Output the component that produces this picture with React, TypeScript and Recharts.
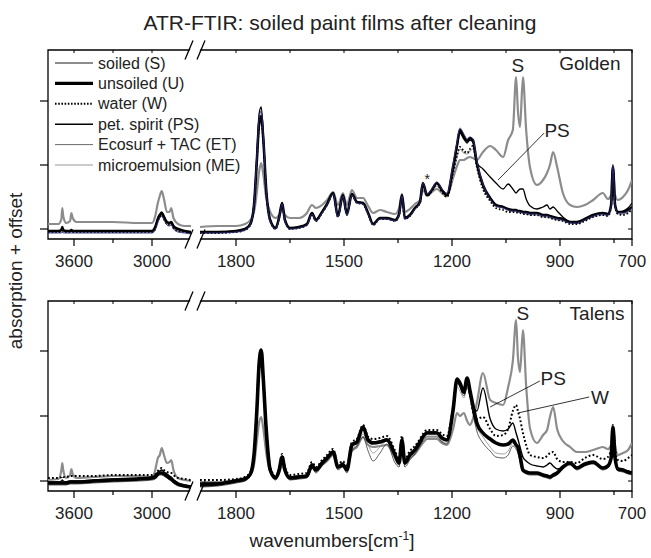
import React from 'react';
import { LineChart, Line, XAxis, YAxis, ReferenceArea, ReferenceLine, ReferenceDot } from 'recharts';

const FONT = '"Liberation Sans", Arial, Helvetica, sans-serif';

// wavenumber grid (cm-1): high-wavenumber segment, then fingerprint segment
const LEFT_WN = [3800, 3720, 3697, 3690, 3683, 3660, 3630, 3620, 3610, 3580, 3450, 3300, 3100, 3000, 2975, 2955, 2940, 2925, 2908, 2885, 2865, 2852, 2835, 2800, 2750, 2700];
const RIGHT_WN = [
  1900, 1850, 1800, 1775, 1760, 1750, 1742, 1736, 1730, 1724, 1716, 1705, 1690, 1680, 1672,
  1664, 1650, 1625, 1603, 1589, 1578, 1561, 1547, 1530, 1517, 1503, 1492, 1478, 1464, 1447,
  1433, 1419, 1400, 1381, 1358, 1347, 1339, 1331, 1317, 1303, 1289, 1281, 1269, 1256, 1242,
  1228, 1214, 1197, 1186, 1178, 1167, 1158, 1150, 1142, 1131, 1114, 1094, 1078, 1058, 1044,
  1031, 1022, 1017, 1011, 1003, 994, 983, 964, 947, 936, 928, 919, 908, 892, 872,
  853, 831, 808, 781, 767, 758, 753, 747, 739, 725, 711, 700,
];
const WN = [...LEFT_WN, ...RIGHT_WN];

// ---------- Golden (top panel), absorption + offset ----------
const TOP_S = [
  0.15, 0.15, 0.20, 0.31, 0.23, 0.16, 0.18, 0.26, 0.21, 0.17, 0.17, 0.17, 0.16, 0.16, 0.23, 0.36, 0.43, 0.48, 0.40, 0.27, 0.27, 0.31, 0.21, 0.15, 0.13, 0.13,
  0.12, 0.13, 0.13, 0.15, 0.19, 0.27, 0.47, 0.67, 0.76, 0.64, 0.41, 0.27, 0.21, 0.24, 0.29,
  0.24, 0.21, 0.21, 0.26, 0.34, 0.31, 0.34, 0.39, 0.47, 0.34, 0.46, 0.34, 0.49, 0.41, 0.41,
  0.33, 0.26, 0.29, 0.27, 0.25, 0.31, 0.45, 0.27, 0.30, 0.35, 0.39, 0.49, 0.43, 0.47, 0.50,
  0.46, 0.43, 0.61, 0.73, 0.79, 0.79, 0.81, 0.82, 0.81, 0.79, 0.87, 0.93, 0.89, 0.82, 0.99,
  1.09, 1.62, 1.29, 1.12, 1.62, 1.09, 0.71, 0.54, 0.59, 0.66, 0.74, 0.87, 0.72, 0.46, 0.34,
  0.32, 0.34, 0.39, 0.46, 0.40, 0.44, 0.74, 0.44, 0.39, 0.42, 0.49, 0.59,
];
const TOP_U = [
  0.08, 0.08, 0.09, 0.12, 0.09, 0.08, 0.08, 0.09, 0.08, 0.08, 0.08, 0.08, 0.08, 0.08, 0.12, 0.20, 0.24, 0.26, 0.22, 0.17, 0.16, 0.17, 0.13, 0.10, 0.08, 0.07,
  0.07, 0.07, 0.08, 0.10, 0.15, 0.34, 0.79, 1.15, 1.23, 0.99, 0.49, 0.19, 0.11, 0.22, 0.36,
  0.19, 0.11, 0.12, 0.15, 0.26, 0.19, 0.27, 0.35, 0.46, 0.23, 0.44, 0.25, 0.45, 0.37, 0.36,
  0.26, 0.15, 0.21, 0.21, 0.19, 0.25, 0.44, 0.21, 0.24, 0.31, 0.37, 0.56, 0.44, 0.49, 0.56,
  0.49, 0.44, 0.72, 0.94, 1.09, 1.02, 0.98, 1.01, 0.99, 0.76, 0.54, 0.41, 0.34, 0.32, 0.30,
  0.29, 0.29, 0.28, 0.28, 0.27, 0.27, 0.26, 0.26, 0.24, 0.24, 0.23, 0.22, 0.21, 0.20, 0.17,
  0.17, 0.20, 0.24, 0.26, 0.25, 0.34, 0.72, 0.34, 0.27, 0.27, 0.29, 0.32,
];
const TOP_W = [
  0.07, 0.07, 0.07, 0.08, 0.07, 0.07, 0.07, 0.07, 0.07, 0.07, 0.07, 0.07, 0.07, 0.07, 0.10, 0.18, 0.22, 0.24, 0.20, 0.15, 0.14, 0.15, 0.11, 0.08, 0.07, 0.06,
  0.06, 0.06, 0.07, 0.09, 0.14, 0.33, 0.78, 1.13, 1.20, 0.97, 0.47, 0.18, 0.10, 0.21, 0.35,
  0.18, 0.10, 0.11, 0.14, 0.25, 0.18, 0.26, 0.34, 0.45, 0.22, 0.43, 0.24, 0.44, 0.36, 0.35,
  0.25, 0.14, 0.20, 0.20, 0.18, 0.24, 0.43, 0.20, 0.23, 0.30, 0.36, 0.55, 0.43, 0.48, 0.55,
  0.47, 0.42, 0.66, 0.84, 0.92, 0.88, 0.86, 0.90, 0.93, 0.72, 0.50, 0.38, 0.31, 0.29, 0.27,
  0.27, 0.27, 0.26, 0.26, 0.25, 0.25, 0.24, 0.24, 0.22, 0.22, 0.21, 0.20, 0.19, 0.18, 0.15,
  0.15, 0.18, 0.22, 0.24, 0.23, 0.32, 0.70, 0.32, 0.25, 0.24, 0.26, 0.30,
];
const TOP_PS = [
  0.08, 0.08, 0.09, 0.10, 0.09, 0.08, 0.08, 0.09, 0.08, 0.08, 0.08, 0.08, 0.08, 0.08, 0.12, 0.21, 0.25, 0.27, 0.23, 0.17, 0.16, 0.17, 0.13, 0.10, 0.08, 0.07,
  0.07, 0.07, 0.08, 0.10, 0.16, 0.36, 0.85, 1.25, 1.32, 1.05, 0.50, 0.19, 0.11, 0.22, 0.36,
  0.19, 0.11, 0.12, 0.15, 0.26, 0.19, 0.27, 0.35, 0.46, 0.23, 0.44, 0.25, 0.45, 0.37, 0.36,
  0.26, 0.15, 0.21, 0.21, 0.19, 0.25, 0.44, 0.21, 0.24, 0.31, 0.37, 0.55, 0.44, 0.49, 0.56,
  0.49, 0.44, 0.70, 0.92, 1.06, 1.00, 0.96, 0.99, 0.97, 0.76, 0.70, 0.62, 0.56, 0.50, 0.55,
  0.50, 0.46, 0.48, 0.50, 0.50, 0.40, 0.33, 0.30, 0.32, 0.34, 0.30, 0.32, 0.28, 0.22, 0.17,
  0.16, 0.19, 0.23, 0.26, 0.25, 0.33, 0.74, 0.33, 0.27, 0.28, 0.31, 0.36,
];
const TOP_ET = [
  0.06, 0.06, 0.06, 0.07, 0.06, 0.06, 0.06, 0.06, 0.06, 0.06, 0.06, 0.06, 0.06, 0.06, 0.09, 0.17, 0.21, 0.23, 0.19, 0.14, 0.13, 0.14, 0.10, 0.07, 0.06, 0.05,
  0.06, 0.06, 0.07, 0.09, 0.15, 0.35, 0.82, 1.20, 1.28, 1.02, 0.49, 0.18, 0.10, 0.21, 0.35,
  0.18, 0.10, 0.11, 0.14, 0.25, 0.18, 0.26, 0.34, 0.45, 0.22, 0.43, 0.24, 0.44, 0.36, 0.35,
  0.25, 0.14, 0.20, 0.20, 0.18, 0.24, 0.43, 0.20, 0.23, 0.30, 0.37, 0.56, 0.45, 0.50, 0.57,
  0.50, 0.46, 0.75, 0.97, 1.11, 1.05, 1.00, 1.02, 1.00, 0.78, 0.55, 0.40, 0.33, 0.31, 0.29,
  0.28, 0.28, 0.27, 0.27, 0.26, 0.26, 0.25, 0.25, 0.23, 0.23, 0.22, 0.21, 0.20, 0.19, 0.16,
  0.16, 0.19, 0.23, 0.25, 0.24, 0.33, 0.73, 0.33, 0.26, 0.26, 0.28, 0.31,
];
const TOP_ME = [
  0.07, 0.07, 0.07, 0.08, 0.07, 0.07, 0.07, 0.07, 0.07, 0.07, 0.07, 0.07, 0.07, 0.07, 0.10, 0.18, 0.22, 0.24, 0.20, 0.15, 0.14, 0.15, 0.11, 0.08, 0.07, 0.06,
  0.07, 0.07, 0.07, 0.09, 0.14, 0.32, 0.76, 1.10, 1.18, 0.95, 0.46, 0.18, 0.10, 0.21, 0.35,
  0.18, 0.10, 0.11, 0.14, 0.25, 0.18, 0.26, 0.34, 0.45, 0.22, 0.43, 0.24, 0.44, 0.36, 0.35,
  0.25, 0.14, 0.20, 0.20, 0.18, 0.24, 0.43, 0.20, 0.23, 0.30, 0.36, 0.54, 0.43, 0.47, 0.53,
  0.46, 0.42, 0.64, 0.82, 0.90, 0.86, 0.85, 0.88, 0.90, 0.72, 0.52, 0.40, 0.33, 0.31, 0.29,
  0.28, 0.28, 0.27, 0.27, 0.26, 0.25, 0.24, 0.24, 0.22, 0.22, 0.21, 0.20, 0.19, 0.18, 0.16,
  0.16, 0.19, 0.22, 0.24, 0.23, 0.31, 0.66, 0.31, 0.25, 0.25, 0.27, 0.30,
];

// ---------- Talens (bottom panel) ----------
const BOT_S = [
  0.11, 0.12, 0.21, 0.28, 0.21, 0.13, 0.16, 0.22, 0.17, 0.13, 0.14, 0.15, 0.15, 0.14, 0.21, 0.33, 0.36, 0.43, 0.36, 0.28, 0.29, 0.31, 0.21, 0.13, 0.11, 0.10,
  0.09, 0.09, 0.11, 0.12, 0.16, 0.26, 0.50, 0.68, 0.74, 0.62, 0.38, 0.20, 0.14, 0.18, 0.26,
  0.19, 0.14, 0.15, 0.15, 0.23, 0.20, 0.26, 0.30, 0.36, 0.24, 0.27, 0.21, 0.40, 0.44, 0.54,
  0.46, 0.44, 0.45, 0.46, 0.33, 0.27, 0.46, 0.27, 0.33, 0.37, 0.44, 0.48, 0.52, 0.52, 0.52,
  0.48, 0.46, 0.62, 0.78, 0.75, 0.78, 0.70, 0.66, 0.72, 0.88, 1.18, 0.91, 0.88, 0.86, 1.04,
  1.30, 1.71, 1.35, 1.19, 1.61, 1.05, 0.62, 0.48, 0.56, 0.61, 0.74, 0.84, 0.62, 0.50, 0.44,
  0.39, 0.39, 0.41, 0.44, 0.42, 0.46, 0.64, 0.46, 0.36, 0.38, 0.41, 0.48,
];
const BOT_U = [
  0.08, 0.08, 0.08, 0.08, 0.08, 0.08, 0.09, 0.09, 0.09, 0.09, 0.10, 0.11, 0.12, 0.13, 0.14, 0.17, 0.18, 0.18, 0.17, 0.15, 0.13, 0.12, 0.10, 0.07, 0.05, 0.04,
  0.06, 0.07, 0.10, 0.12, 0.17, 0.36, 0.81, 1.26, 1.41, 1.11, 0.61, 0.21, 0.13, 0.21, 0.34,
  0.21, 0.13, 0.14, 0.15, 0.26, 0.21, 0.28, 0.33, 0.39, 0.24, 0.26, 0.21, 0.46, 0.49, 0.64,
  0.51, 0.48, 0.49, 0.51, 0.36, 0.28, 0.51, 0.28, 0.36, 0.41, 0.49, 0.54, 0.58, 0.58, 0.58,
  0.53, 0.51, 0.81, 1.12, 1.08, 0.99, 1.13, 1.00, 0.86, 0.68, 0.58, 0.52, 0.48, 0.46, 0.47,
  0.51, 0.46, 0.44, 0.35, 0.21, 0.19, 0.18, 0.18, 0.16, 0.15, 0.14, 0.16, 0.18, 0.24, 0.28,
  0.23, 0.27, 0.29, 0.23, 0.25, 0.33, 0.64, 0.33, 0.22, 0.21, 0.19, 0.18,
];
const BOT_W = [
  0.13, 0.13, 0.14, 0.15, 0.14, 0.14, 0.15, 0.15, 0.15, 0.15, 0.15, 0.16, 0.16, 0.16, 0.17, 0.20, 0.22, 0.23, 0.21, 0.19, 0.18, 0.18, 0.16, 0.13, 0.12, 0.11,
  0.11, 0.11, 0.12, 0.14, 0.19, 0.38, 0.85, 1.28, 1.40, 1.12, 0.63, 0.24, 0.15, 0.23, 0.37,
  0.24, 0.16, 0.17, 0.18, 0.29, 0.24, 0.31, 0.36, 0.42, 0.27, 0.30, 0.25, 0.49, 0.52, 0.66,
  0.54, 0.52, 0.53, 0.55, 0.40, 0.32, 0.55, 0.32, 0.40, 0.45, 0.52, 0.57, 0.61, 0.61, 0.61,
  0.57, 0.55, 0.84, 1.10, 1.06, 0.97, 1.08, 0.96, 0.80, 0.72, 0.74, 0.62, 0.55, 0.56, 0.62,
  0.80, 0.86, 0.80, 0.72, 0.58, 0.46, 0.36, 0.34, 0.33, 0.35, 0.38, 0.39, 0.32, 0.29, 0.29,
  0.28, 0.33, 0.36, 0.32, 0.34, 0.42, 0.66, 0.42, 0.31, 0.30, 0.33, 0.36,
];
const BOT_PS = [
  0.09, 0.09, 0.10, 0.11, 0.10, 0.09, 0.10, 0.10, 0.10, 0.10, 0.11, 0.12, 0.13, 0.14, 0.16, 0.19, 0.20, 0.21, 0.19, 0.17, 0.15, 0.14, 0.11, 0.08, 0.06, 0.05,
  0.08, 0.08, 0.11, 0.13, 0.18, 0.37, 0.80, 1.22, 1.33, 1.05, 0.58, 0.22, 0.14, 0.22, 0.35,
  0.22, 0.14, 0.15, 0.16, 0.27, 0.22, 0.29, 0.34, 0.40, 0.25, 0.28, 0.22, 0.47, 0.50, 0.63,
  0.52, 0.49, 0.50, 0.52, 0.37, 0.29, 0.52, 0.29, 0.37, 0.42, 0.50, 0.55, 0.59, 0.59, 0.59,
  0.54, 0.52, 0.80, 1.10, 1.06, 0.98, 1.10, 0.98, 0.85, 0.80, 1.03, 0.72, 0.62, 0.60, 0.62,
  0.68, 0.58, 0.52, 0.44, 0.34, 0.30, 0.27, 0.25, 0.24, 0.26, 0.28, 0.25, 0.22, 0.24, 0.28,
  0.23, 0.26, 0.28, 0.23, 0.25, 0.34, 0.62, 0.34, 0.22, 0.21, 0.20, 0.19,
];
const BOT_ET = [
  0.06, 0.06, 0.06, 0.06, 0.06, 0.06, 0.07, 0.07, 0.07, 0.07, 0.08, 0.09, 0.10, 0.11, 0.12, 0.15, 0.16, 0.16, 0.15, 0.13, 0.11, 0.10, 0.08, 0.05, 0.04, 0.03,
  0.04, 0.05, 0.08, 0.10, 0.15, 0.34, 0.78, 1.22, 1.36, 1.06, 0.58, 0.19, 0.11, 0.19, 0.32,
  0.19, 0.11, 0.12, 0.13, 0.23, 0.18, 0.25, 0.30, 0.36, 0.21, 0.24, 0.18, 0.40, 0.45, 0.54,
  0.40, 0.30, 0.38, 0.47, 0.28, 0.24, 0.46, 0.24, 0.31, 0.37, 0.45, 0.50, 0.54, 0.54, 0.54,
  0.49, 0.47, 0.77, 1.08, 1.04, 0.95, 1.08, 0.95, 0.78, 0.60, 0.48, 0.40, 0.34, 0.33, 0.36,
  0.45, 0.42, 0.38, 0.30, 0.20, 0.17, 0.16, 0.16, 0.14, 0.13, 0.12, 0.14, 0.16, 0.22, 0.26,
  0.21, 0.25, 0.27, 0.21, 0.23, 0.31, 0.62, 0.31, 0.20, 0.19, 0.17, 0.16,
];
const BOT_ME = [
  0.07, 0.07, 0.07, 0.07, 0.07, 0.07, 0.08, 0.08, 0.08, 0.08, 0.09, 0.10, 0.11, 0.12, 0.13, 0.16, 0.17, 0.17, 0.16, 0.14, 0.12, 0.11, 0.09, 0.06, 0.05, 0.04,
  0.05, 0.06, 0.09, 0.11, 0.16, 0.33, 0.75, 1.16, 1.30, 1.02, 0.56, 0.20, 0.12, 0.20, 0.33,
  0.20, 0.12, 0.13, 0.14, 0.24, 0.19, 0.26, 0.31, 0.37, 0.22, 0.26, 0.20, 0.42, 0.46, 0.57,
  0.46, 0.38, 0.44, 0.50, 0.32, 0.26, 0.48, 0.26, 0.33, 0.38, 0.46, 0.51, 0.55, 0.55, 0.55,
  0.50, 0.48, 0.76, 1.04, 1.00, 0.93, 1.04, 0.93, 0.78, 0.64, 0.54, 0.44, 0.38, 0.37, 0.40,
  0.48, 0.44, 0.40, 0.32, 0.22, 0.18, 0.17, 0.17, 0.15, 0.14, 0.13, 0.15, 0.17, 0.23, 0.27,
  0.22, 0.26, 0.28, 0.22, 0.24, 0.32, 0.60, 0.32, 0.21, 0.20, 0.18, 0.17,
];

const MAJOR_TICKS = [3600, 3000, 1800, 1500, 1200, 900, 700];
const MINOR_TICKS = [3300, 1650, 1350, 1050, 750];
const TOP_Y_TICKS = [0.10, 0.74, 1.38];
const BOT_Y_TICKS = [0.10, 0.75, 1.40];

const LEGEND_ITEMS = [
  { label: 'soiled (S)', color: '#8c8c8c', width: 2.2 },
  { label: 'unsoiled (U)', color: '#000', width: 3.2 },
  { label: 'water (W)', color: '#000', width: 2, dash: '1.6 1.6' },
  { label: 'pet. spirit (PS)', color: '#000', width: 1.5 },
  { label: 'Ecosurf + TAC (ET)', color: '#444', width: 0.8 },
  { label: 'microemulsion (ME)', color: '#9a9a9a', width: 1.2 },
];

// ---------- broken axis mapping ----------
const PLOT_W = 584;
const toU = (wn: number) => (wn > 2200 ? (3800 - wn) * 0.13 : 152 + (1900 - wn) * 0.36);
const GAP_U = 147.5;
const keyOf = (u: number) => Math.round(u * 100);
const TICK_INFO = new Map<number, { label: string; major: boolean }>();
MAJOR_TICKS.forEach((t) => TICK_INFO.set(keyOf(toU(t)), { label: String(t), major: true }));
MINOR_TICKS.forEach((t) => TICK_INFO.set(keyOf(toU(t)), { label: '', major: false }));
const X_TICKS = [...MAJOR_TICKS, ...MINOR_TICKS].map(toU).sort((a, b) => a - b);

function buildRows(cols: Record<string, number[]>) {
  const rows: any[] = [];
  WN.forEach((wn, i) => {
    if (i === LEFT_WN.length) {
      const gap: any = { u: GAP_U };
      Object.keys(cols).forEach((k) => (gap[k] = null));
      rows.push(gap);
    }
    const r: any = { u: toU(wn), wn };
    Object.keys(cols).forEach((k) => (r[k] = cols[k][i]));
    rows.push(r);
  });
  return rows;
}

const TOP_DATA = buildRows({ S: TOP_S, U: TOP_U, W: TOP_W, PS: TOP_PS, ET: TOP_ET, ME: TOP_ME });
const BOT_DATA = buildRows({ S: BOT_S, U: BOT_U, W: BOT_W, PS: BOT_PS, ET: BOT_ET, ME: BOT_ME });

const TOP_STYLE = [
  { key: 'S', color: '#8c8c8c', width: 2.2 },
  { key: 'ME', color: '#a0a0a0', width: 1.2 },
  { key: 'U', color: '#000', width: 2.6 },
  { key: 'W', color: '#000', width: 1.8, dash: '1.6 2' },
  { key: 'PS', color: '#000', width: 1.3 },
  { key: 'ET', color: '#2b2b80', width: 0.9 },
];
const BOT_STYLE = [
  { key: 'S', color: '#8c8c8c', width: 2.2 },
  { key: 'ME', color: '#8a8a8a', width: 0.8 },
  { key: 'ET', color: '#333', width: 0.8 },
  { key: 'U', color: '#000', width: 3.6 },
  { key: 'W', color: '#000', width: 2, dash: '1.8 2.2' },
  { key: 'PS', color: '#000', width: 1.4 },
];

const TOP_TEXTS = [
  { text: 'S', wn: 1017, v: 1.74, size: 19 },
  { text: 'PS', wn: 908, v: 1.09, size: 19 },
  { text: 'Golden', wn: 817, v: 1.76, size: 19 },
  { text: '*', wn: 1269, v: 0.6, size: 14 },
];
const TOP_POINTERS = [{ from: [944, 1.06], to: [1072, 0.59] }];
const BOT_TEXTS = [
  { text: 'S', wn: 1003, v: 1.78, size: 19 },
  { text: 'Talens', wn: 797, v: 1.78, size: 19 },
  { text: 'PS', wn: 919, v: 1.13, size: 19 },
  { text: 'W', wn: 789, v: 0.94, size: 19 },
];
const BOT_POINTERS = [
  { from: [956, 1.1], to: [1094, 0.84] },
  { from: [819, 0.94], to: [1017, 0.78] },
];

function renderXTick(p: any, plotH: number) {
  const info = TICK_INFO.get(keyOf(p.payload.value)) || { label: '', major: false };
  const len = info.major ? 7 : 4;
  return (
    <g>
      <line x1={p.x} x2={p.x} y1={p.y} y2={p.y + len} stroke="#000" strokeWidth={1.2} />
      <line x1={p.x} x2={p.x} y1={p.y - plotH} y2={p.y - plotH + 3} stroke="#000" strokeWidth={1} />
      {info.major && (
        <text x={p.x} y={p.y + 28} textAnchor="middle" fontSize={17} fill="#222" fontFamily={FONT}>
          {info.label}
        </text>
      )}
    </g>
  );
}

function renderYTick(p: any) {
  return (
    <g>
      <line x1={p.x - 8} x2={p.x} y1={p.y} y2={p.y} stroke="#000" strokeWidth={1.2} />
      <line x1={p.x + PLOT_W - 4} x2={p.x + PLOT_W} y1={p.y} y2={p.y} stroke="#000" strokeWidth={1} />
    </g>
  );
}

function Panel(props: any) {
  const { top, height, data, styles, yMax, yTicks, texts, pointers } = props;
  const plotH = height - 50 - 41;
  return (
    <div style={{ position: 'absolute', left: 0, top }}>
      <LineChart width={651} height={height} data={data} margin={{ top: 50, right: 19, bottom: 0, left: 8 }}>
        <XAxis
          dataKey="u"
          type="number"
          domain={[0, PLOT_W]}
          ticks={X_TICKS}
          interval={0}
          allowDataOverflow
          height={41}
          tickSize={0}
          tickMargin={0}
          axisLine={false}
          tickLine={false}
          tick={(p: any) => renderXTick(p, plotH)}
        />
        <YAxis
          type="number"
          domain={[0, yMax]}
          ticks={yTicks}
          allowDataOverflow
          width={40}
          tickSize={0}
          tickMargin={0}
          axisLine={false}
          tickLine={false}
          tick={renderYTick}
        />
        {styles.map((s: any) => (
          <Line
            key={s.key}
            dataKey={s.key}
            type="monotone"
            stroke={s.color}
            strokeWidth={s.width}
            strokeDasharray={s.dash}
            dot={false}
            activeDot={false}
            connectNulls={false}
            isAnimationActive={false}
          />
        ))}
        <ReferenceArea x1={0} x2={PLOT_W} y1={0} y2={yMax} stroke="#000" strokeWidth={1.3} fill="none" fillOpacity={0} />
        {pointers.map((pt: any, i: number) => (
          <ReferenceLine
            key={'p' + i}
            segment={[
              { x: toU(pt.from[0]), y: pt.from[1] },
              { x: toU(pt.to[0]), y: pt.to[1] },
            ]}
            stroke="#000"
            strokeWidth={0.8}
          />
        ))}
        {texts.map((t: any, i: number) => (
          <ReferenceDot
            key={'t' + i}
            x={toU(t.wn)}
            y={t.v}
            r={1}
            shape={(sp: any) => (
              <text
                x={sp.cx}
                y={sp.cy}
                textAnchor="middle"
                dominantBaseline="central"
                fontSize={t.size}
                fill="#222"
                fontFamily={FONT}
              >
                {t.text}
              </text>
            )}
          />
        ))}
      </LineChart>
    </div>
  );
}

function BreakMark({ y }: { y: number }) {
  const a1 = 185;
  const a2 = 197;
  const xs = (a: number, d: number) => a + 4 - (d * 8) / 19;
  return (
    <g>
      <polygon
        points={`${xs(a1, 3) + 1},${y + 3} ${xs(a1, -3) + 1},${y - 3} ${xs(a2, -3) - 1},${y - 3} ${xs(a2, 3) - 1},${y + 3}`}
        fill="#fff"
      />
      <line x1={a1} y1={y + 9.5} x2={a1 + 8} y2={y - 9.5} stroke="#000" strokeWidth={1.3} />
      <line x1={a2} y1={y + 9.5} x2={a2 + 8} y2={y - 9.5} stroke="#000" strokeWidth={1.3} />
    </g>
  );
}

export default function App() {
  return (
    <div style={{ position: 'absolute', left: 0, top: 0, width: 651, height: 558, background: '#fff', fontFamily: FONT }}>
      <Panel top={0} height={280} data={TOP_DATA} styles={TOP_STYLE} yMax={1.89} yTicks={TOP_Y_TICKS} texts={TOP_TEXTS} pointers={TOP_POINTERS} />
      <Panel top={251} height={281} data={BOT_DATA} styles={BOT_STYLE} yMax={1.9} yTicks={BOT_Y_TICKS} texts={BOT_TEXTS} pointers={BOT_POINTERS} />
      <svg width={651} height={558} style={{ position: 'absolute', left: 0, top: 0, pointerEvents: 'none' }}>
        <text x={340} y={30} textAnchor="middle" fontSize={21} fill="#222" fontFamily={FONT}>
          ATR-FTIR: soiled paint films after cleaning
        </text>
        <text x={0} y={0} transform="translate(22,271) rotate(-90)" textAnchor="middle" fontSize={19} fill="#222" fontFamily={FONT}>
          absorption + offset
        </text>
        <text x={332} y={547} textAnchor="middle" fontSize={19} fill="#222" fontFamily={FONT}>
          wavenumbers[cm<tspan dy={-7} fontSize={12}>-1</tspan>
          <tspan dy={7}>]</tspan>
        </text>
        {[50, 239, 301, 491].map((y) => (
          <BreakMark key={y} y={y} />
        ))}
        {LEGEND_ITEMS.map((it, i) => {
          const cy = 63 + i * 20.4;
          return (
            <g key={it.label}>
              <line x1={55} x2={93} y1={cy} y2={cy} stroke={it.color} strokeWidth={it.width} strokeDasharray={it.dash} />
              <text x={98} y={cy + 5.5} fontSize={16} fill="#222" fontFamily={FONT}>
                {it.label}
              </text>
            </g>
          );
        })}
      </svg>
    </div>
  );
}
